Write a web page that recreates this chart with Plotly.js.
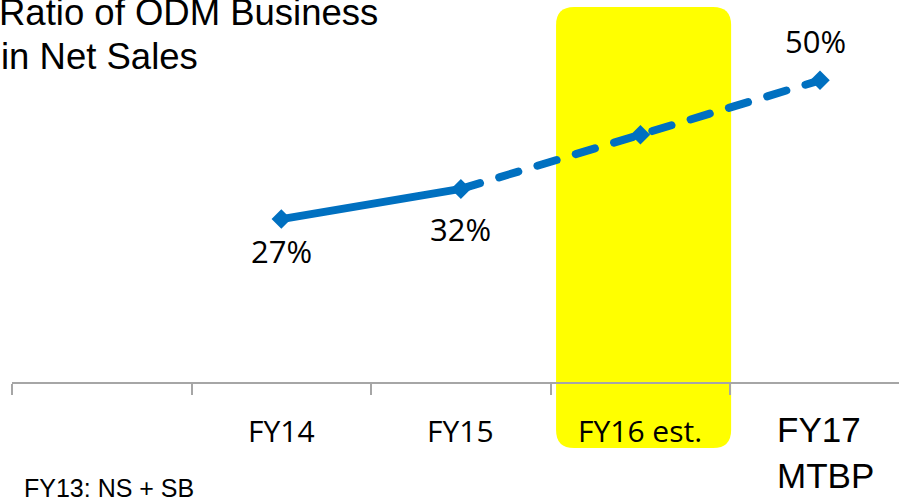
<!DOCTYPE html>
<html>
<head>
<meta charset="utf-8">
<script src="https://cdn.plot.ly/plotly-3.0.1.min.js"></script>
<style>
  html, body { margin: 0; padding: 0; background: #fff; }
  #chart { width: 899px; height: 501px; }
  .scatterlayer .js-line { stroke-linecap: round !important; stroke-linejoin: round !important; }
</style>
</head>
<body>
<div id="chart"></div>
<script>
// ---- data ----
const categories = ["FY13", "FY14", "FY15", "FY16 est.", "FY17 MTBP"];
const tickLabels = ["", "FY14", "FY15", "FY16 est.", "FY17<br>MTBP"];
const actualCats = ["FY14", "FY15"];
const actualValues = [27, 32];
const planCats = ["FY15", "FY16 est.", "FY17 MTBP"];
const planValues = [32, 41, 50];
const labelCats = ["FY14", "FY15", "FY17 MTBP"];
const labelValues = [27, 32, 50];
const labelSide = ["below", "below", "above"];
const highlightCat = "FY16 est.";
const titleLines = ["Ratio of ODM Business", "in Net Sales"];
const noteText = "FY13: NS + SB";

// ---- geometry ----
const W = 899, H = 501;
const M = { l: 12, r: 0, t: 20, b: 119 };
const xRange = [-0.5, 4.44];
const yRange = [0, 60];
const plotW = W - M.l - M.r, plotH = H - M.t - M.b;
const pxToPaperX = px => (px - M.l) / plotW;
const pxToPaperY = py => (H - M.b - py) / plotH;
const idxToPaperX = i => (i - xRange[0]) / (xRange[1] - xRange[0]);

const blue = "#0070C0";
const axisGray = "#a6a6a6";

const traces = [
  {
    type: "scatter", mode: "lines+markers",
    x: actualCats, y: actualValues,
    line: { color: blue, width: 8 },
    marker: { symbol: "diamond", size: 15, color: blue },
    hoverinfo: "skip", showlegend: false
  },
  {
    type: "scatter", mode: "lines+markers",
    x: planCats, y: planValues,
    line: { color: blue, width: 8, dash: "20px,20px" },
    marker: { symbol: "diamond", size: 15, color: blue },
    hoverinfo: "skip", showlegend: false
  }
];

// highlight rounded rectangle (paper coords)
const hi = categories.indexOf(highlightCat);
const rx0 = idxToPaperX(hi - 0.47), rx1 = idxToPaperX(hi + 0.505);
const ry1 = pxToPaperY(7), ry0 = pxToPaperY(448);
const crx = 18 / plotW, cry = 18 / plotH;
const path = `M ${rx0 + crx},${ry1} L ${rx1 - crx},${ry1} Q ${rx1},${ry1} ${rx1},${ry1 - cry} ` +
  `L ${rx1},${ry0 + cry} Q ${rx1},${ry0} ${rx1 - crx},${ry0} L ${rx0 + crx},${ry0} ` +
  `Q ${rx0},${ry0} ${rx0},${ry0 + cry} L ${rx0},${ry1 - cry} Q ${rx0},${ry1} ${rx0 + crx},${ry1} Z`;

const annotations = [];
// data labels
labelCats.forEach((c, i) => {
  annotations.push({
    x: c, y: labelValues[i], xref: "x", yref: "y",
    text: labelValues[i] + "%", showarrow: false,
    xanchor: "center", yanchor: "middle",
    xshift: labelSide[i] === "above" ? -5 : 0,
    yshift: labelSide[i] === "below" ? (i === 0 ? -32 : -40) : 39,
    font: { family: "Open Sans, sans-serif", size: 31, color: "#000" }
  });
});
// category labels
categories.forEach((c, i) => {
  if (!tickLabels[i]) return;
  const multi = tickLabels[i].indexOf("<br>") >= 0;
  annotations.push({
    x: c, y: 0, xref: "x", yref: "y",
    text: tickLabels[i], showarrow: false,
    xanchor: "center", yanchor: "middle", align: "left",
    xshift: multi ? 5 : 0,
    yshift: multi ? -70 : -48,
    font: multi ? { family: "Liberation Sans, Arial, sans-serif", size: 35, color: "#000" }
                : { family: "Open Sans, sans-serif", size: 30, color: "#000" }
  });
});
// title (two lines, tighter spacing)
const titleTops = [-9.5, 33.5];
const titleLefts = [-3, -1];
titleLines.forEach((t, i) => {
  annotations.push({
    xref: "paper", yref: "paper", x: pxToPaperX(titleLefts[i]), y: pxToPaperY(titleTops[i]),
    xanchor: "left", yanchor: "top", align: "left", showarrow: false,
    text: t,
    font: { family: "Liberation Sans, Arial, sans-serif", size: 36.5, color: "#000" }
  });
});
// footnote
annotations.push({
  xref: "paper", yref: "paper", x: pxToPaperX(22), y: pxToPaperY(488),
  xanchor: "left", yanchor: "middle", align: "left", showarrow: false,
  text: noteText,
  font: { family: "Liberation Sans, Arial, sans-serif", size: 25, color: "#000" }
});

const layout = {
  width: W, height: H,
  margin: M,
  paper_bgcolor: "#fff", plot_bgcolor: "rgba(0,0,0,0)",
  showlegend: false,
  xaxis: {
    type: "category", categoryorder: "array", categoryarray: categories,
    range: xRange, fixedrange: true,
    showline: true, linecolor: axisGray, linewidth: 2,
    ticks: "outside", tickson: "boundaries", ticklen: 11, tickwidth: 2, tickcolor: axisGray,
    showticklabels: false, showgrid: false, zeroline: false
  },
  yaxis: { range: yRange, visible: false, fixedrange: true, showgrid: false, zeroline: false },
  shapes: [{
    type: "path", xref: "paper", yref: "paper", path: path,
    fillcolor: "#ffff00", line: { width: 0 }, layer: "below"
  }],
  annotations: annotations
};

Plotly.newPlot("chart", traces, layout, { displayModeBar: false, staticPlot: true });
</script>
</body>
</html>
